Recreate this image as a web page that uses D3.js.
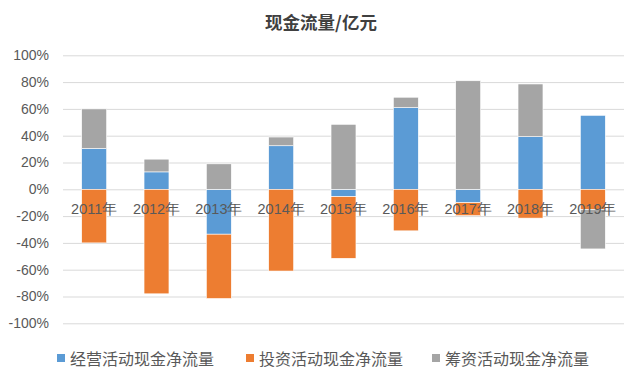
<!DOCTYPE html>
<html lang="zh">
<head>
<meta charset="utf-8">
<script src="https://cdnjs.cloudflare.com/ajax/libs/d3/7.8.5/d3.min.js"></script>
<style>
  body { margin: 0; background: #fff; }
  svg { display: block; font-family: "Noto Sans", "Noto Sans CJK SC", sans-serif; }
</style>
</head>
<body>
<div id="chart"></div>
<script>
// data (percent)
var years = ['2011年', '2012年', '2013年', '2014年', '2015年', '2016年', '2017年', '2018年', '2019年'];
var seriesNames = ['经营活动现金净流量', '投资活动现金净流量', '筹资活动现金净流量'];
var operating = [30.5, 13, -33.5, 32.5, -5.5, 61, -10, 39.3, 55.2];
var investing = [-40, -78, -48, -61, -46, -31, -9.7, -21.5, -15];
var financing = [29.5, 9.5, 19, 6.5, 48.5, 7.7, 81, 39.3, -29.5];
var yTicks = [-100, -80, -60, -40, -20, 0, 20, 40, 60, 80, 100];
var colors = ['#5b9bd5', '#ed7d31', '#a5a5a5'];

var svgWidth = 635, svgHeight = 380;
// plot area (window.top is read-only, so no plain "top")
var plotLeft = 63, plotRight = 624, plotTop = 55.3, plotBottom = 323.3;

var svg = d3.select('#chart').append('svg')
  .attr('width', svgWidth)
  .attr('height', svgHeight);

// build rows for the stack
var rows = years.map(function(y, i) {
  return { year: y, s0: operating[i], s1: investing[i], s2: financing[i] };
});
var stack = d3.stack()
  .keys(['s0', 's1', 's2'])
  .offset(d3.stackOffsetDiverging);
var layers = stack(rows);

var x = d3.scaleBand()
  .domain(years)
  .range([plotLeft, plotRight])
  .paddingInner(0.6)
  .paddingOuter(0.3);

var y = d3.scaleLinear()
  .domain([-100, 100])
  .range([plotBottom, plotTop]);

// gridlines
svg.append('g')
  .attr('class', 'grid')
  .attr('transform', 'translate(' + plotLeft + ',0)')
  .call(d3.axisLeft(y).tickValues(yTicks).tickSize(-(plotRight - plotLeft)).tickFormat(''))
  .call(function(g) {
    g.select('.domain').remove();
    g.selectAll('line').attr('stroke', '#d9d9d9').attr('stroke-width', 1);
  });

// y axis labels
svg.append('g')
  .attr('transform', 'translate(' + (plotLeft - 14) + ',0)')
  .call(d3.axisLeft(y).tickValues(yTicks).tickSize(0).tickPadding(0)
    .tickFormat(function(d) { return d + '%'; }))
  .call(function(g) {
    g.select('.domain').remove();
    g.selectAll('text').attr('fill', '#595959').style('font-size', '14px');
  });

// bars, thin white edge separates the stacked pieces
svg.append('g').selectAll('g')
  .data(layers)
  .enter().append('g')
  .attr('fill', function(d, i) { return colors[i]; })
  .selectAll('rect')
  .data(function(d) { return d; })
  .enter().append('rect')
  .attr('x', function(d) { return x(d.data.year); })
  .attr('width', x.bandwidth())
  .attr('y', function(d) { return y(Math.max(d[0], d[1])); })
  .attr('height', function(d) { return Math.abs(y(d[0]) - y(d[1])); })
  .attr('stroke', '#fff')
  .attr('stroke-width', 0.6);

// x axis labels sit just below zero line
svg.append('g')
  .attr('transform', 'translate(0,' + y(0) + ')')
  .call(d3.axisBottom(x).tickSize(0).tickPadding(14))
  .call(function(g) {
    g.select('.domain').remove();
    g.selectAll('text').attr('fill', '#595959').style('font-size', '14.5px');
  });

// title
svg.append('text')
  .text('现金流量/亿元')
  .attr('x', 321)
  .attr('y', 28.5)
  .attr('text-anchor', 'middle')
  .attr('fill', '#404040')
  .style('font-family', '"Noto Sans CJK SC", sans-serif')
  .style('font-weight', 'bold')
  .style('font-size', '17.5px');

// legend
var legendX = [57, 246, 432];
var legend = svg.append('g').selectAll('g')
  .data(seriesNames)
  .enter().append('g')
  .attr('transform', function(d, i) { return 'translate(' + legendX[i] + ',354)'; });

legend.append('rect')
  .attr('width', 8).attr('height', 8)
  .attr('fill', function(d, i) { return colors[i]; });

legend.append('text')
  .text(function(d) { return d; })
  .attr('x', 13)
  .attr('y', 10.5)
  .attr('fill', '#595959')
  .style('font-family', '"Noto Sans CJK SC", sans-serif')
  .style('font-size', '16px');
</script>
</body>
</html>
